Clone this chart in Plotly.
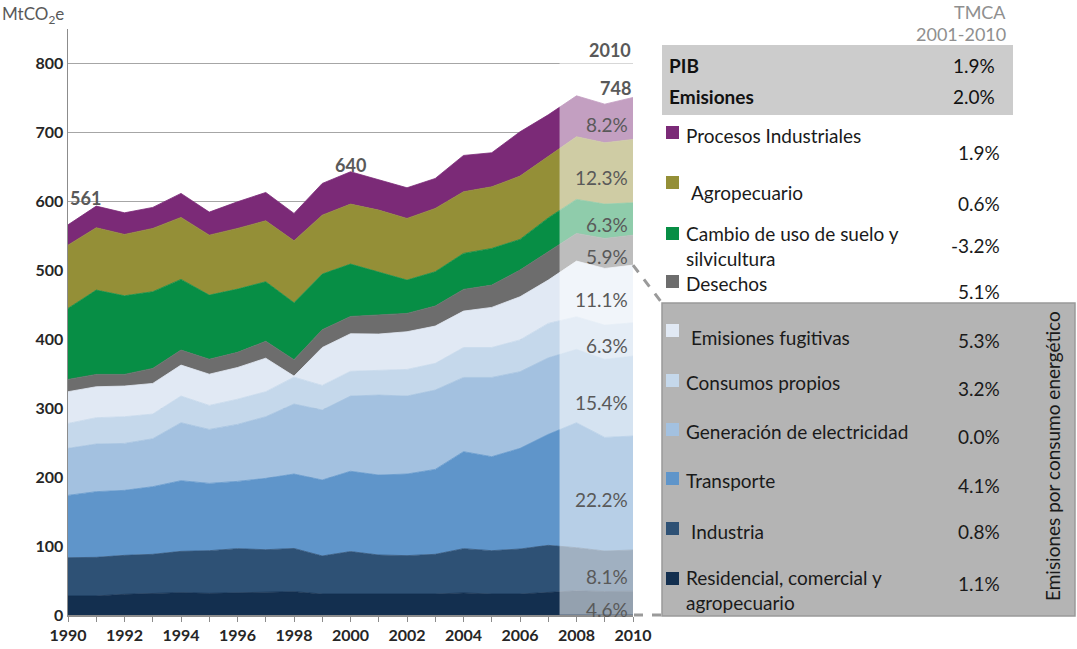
import numpy as np
import plotly.graph_objects as go

# ---------------- data ----------------
years = list(range(1990, 2011))

residencial = [27.6, 27.6, 30.0, 31.4, 32.4, 31.4, 32.4, 33.8, 33.8, 30.4, 30.4,
               30.4, 30.4, 30.4, 32.0, 30.4, 30.4, 33.0, 35.0, 34.0, 34.4]
industria = [55.5, 56.0, 56.5, 56.6, 59.9, 61.9, 63.8, 60.9, 62.7, 55.2, 61.6,
             56.6, 55.7, 57.6, 64.2, 62.9, 65.3, 68.0, 62.6, 58.8, 59.9]
transporte = [90.4, 95.3, 94.3, 98.1, 102.5, 97.6, 97.6, 103.5, 108.0, 110.2, 116.5,
              116.0, 118.4, 123.2, 140.7, 136.3, 146.0, 161.0, 181.3, 164.8, 165.3]
generacion = [68.2, 69.1, 68.1, 69.6, 84.1, 78.3, 82.7, 89.4, 101.5, 101.5, 109.1,
              116.0, 113.1, 115.1, 107.7, 115.0, 111.2, 111.0, 106.4, 113.2, 116.0]
consumos = [36.2, 38.2, 38.7, 35.8, 38.7, 34.8, 36.5, 36.3, 39.0, 35.7, 35.9,
            36.3, 38.6, 38.7, 43.4, 43.4, 46.1, 50.0, 47.3, 49.7, 48.3]
fugitivas = [46.0, 44.9, 44.5, 44.4, 44.9, 45.3, 46.0, 48.6, 1.5, 55.0, 54.5,
             52.2, 54.7, 54.1, 52.8, 58.2, 62.6, 62.8, 80.7, 82.2, 83.6]
desechos = [17.8, 17.9, 16.9, 21.8, 21.8, 21.7, 22.0, 24.5, 23.8, 25.8, 25.0,
            27.5, 26.6, 29.0, 31.5, 32.3, 38.7, 41.1, 40.2, 43.5, 43.5]
uso_suelo = [103.0, 122.3, 114.0, 111.2, 102.5, 93.0, 91.7, 86.4, 82.6, 80.7, 76.0,
             62.9, 48.3, 49.8, 52.2, 53.2, 44.5, 49.1, 49.3, 49.8, 46.9]
agropecuario = [91.8, 90.4, 89.0, 91.8, 89.9, 87.0, 88.0, 88.4, 89.9, 85.5, 87.0,
                89.4, 89.4, 91.8, 89.4, 89.4, 91.8, 88.7, 90.9, 89.0, 91.9]
procesos = [29.5, 31.4, 31.4, 30.5, 34.8, 33.4, 38.7, 41.1, 39.7, 46.0, 46.9,
            43.5, 44.5, 43.5, 52.7, 49.4, 64.3, 60.8, 59.4, 56.0, 60.9]

series_names = ["Residencial, comercial y agropecuario", "Industria", "Transporte",
                "Generación de electricidad", "Consumos propios", "Emisiones fugitivas",
                "Desechos", "Cambio de uso de suelo y silvicultura", "Agropecuario",
                "Procesos Industriales"]
series_values = [residencial, industria, transporte, generacion, consumos, fugitivas,
                 desechos, uso_suelo, agropecuario, procesos]
share_2010 = ["4.6%", "8.1%", "22.2%", "15.4%", "6.3%", "11.1%", "5.9%", "6.3%",
              "12.3%", "8.2%"]

total_labels = ["561", "640", "748"]
total_label_years = [1990, 2000, 2010]

legend_labels = ["Procesos Industriales", "Agropecuario",
                 "Cambio de uso de suelo y<br>silvicultura", "Desechos",
                 "Emisiones fugitivas", "Consumos propios",
                 "Generación de electricidad", "Transporte", "Industria",
                 "Residencial, comercial y<br>agropecuario"]
legend_tmca = ["1.9%", "0.6%", "-3.2%", "5.1%", "5.3%", "3.2%", "0.0%", "4.1%",
               "0.8%", "1.1%"]
summary_labels = ["PIB", "Emisiones"]
summary_tmca = ["1.9%", "2.0%"]
fade_start = 2007.4

# ---------------- styles ----------------
colors = ["#132F4F", "#2E5175", "#5F95CA", "#A3C1E0", "#C5D8EB", "#E1E9F4",
          "#6D6D6D", "#078E45", "#948F37", "#7B2A77"]
legend_colors = ["#7B2A77", "#948F37", "#078E45", "#6D6D6D", "#E1E9F4", "#C5D8EB",
                 "#A3C1E0", "#5F95CA", "#2E5175", "#132F4F"]
FONT = "Lato, 'Open Sans', sans-serif"
W, H = 1077, 649
L, R, T, B = 68, 444, 29, 34
YMAX = 850
FS = 19


def px(x):
    return (x - L) / (W - L - R)


def py(y):
    return (H - B - y) / (H - T - B)


def ypix(v):
    return (H - B) - v * (H - T - B) / YMAX


fig = go.Figure()
for name, vals, col in zip(series_names, series_values, colors):
    fig.add_trace(go.Scatter(
        x=years, y=vals, name=name, mode="lines", stackgroup="one",
        line=dict(width=0.8, color=col), fillcolor=col,
        showlegend=False, hoverinfo="skip"))

cum = np.cumsum(np.array(series_values), axis=0)
totals = cum[-1]

shapes = []
annotations = []

# faded projection overlay
shapes.append(dict(type="rect", xref="x", yref="y", x0=fade_start, x1=2010,
                   y0=0.5, y1=803, fillcolor="white", opacity=0.55,
                   line=dict(width=0), layer="above"))

# shares in 2010
for i, lab in enumerate(share_2010):
    lo = cum[i - 1][-1] if i > 0 else 0
    hi = cum[i][-1]
    annotations.append(dict(x=2010, y=(lo + hi) / 2, xref="x", yref="y",
                            text=lab, showarrow=False, xanchor="right",
                            yanchor="middle", xshift=-3, yshift=-6,
                            font=dict(size=FS, color="#595959", family=FONT)))

# total labels
tl_shift = [14, -6, -4]
tl_anchor = ["left", "center", "right"]
for lab, yr, sh, anc in zip(total_labels, total_label_years, tl_shift, tl_anchor):
    annotations.append(dict(x=yr, y=totals[years.index(yr)], xref="x", yref="y",
                            text=lab, showarrow=False, xanchor=anc,
                            yanchor="bottom", yshift=sh,
                            font=dict(size=18, color="#595959", family=FONT,
                                      weight="bold")))
annotations.append(dict(x=2010, y=820, xref="x", yref="y", text="2010",
                        showarrow=False, xanchor="right", yanchor="middle",
                        font=dict(size=18, color="#595959", family=FONT,
                                  weight="bold")))

# unit label
annotations.append(dict(x=px(0), y=py(15), xref="paper", yref="paper",
                        text="MtCO<sub>2</sub>e", showarrow=False,
                        xanchor="left", yanchor="middle",
                        font=dict(size=17, color="#595959", family=FONT)))

# ---------------- right panel ----------------
annotations.append(dict(x=px(1008), y=py(12), xref="paper", yref="paper",
                        text="TMCA", showarrow=False, xanchor="right",
                        yanchor="middle",
                        font=dict(size=18, color="#8F8F8F", family=FONT)))
annotations.append(dict(x=px(1008), y=py(34), xref="paper", yref="paper",
                        text="2001-2010", showarrow=False, xanchor="right",
                        yanchor="middle",
                        font=dict(size=18, color="#8F8F8F", family=FONT)))

shapes.append(dict(type="rect", xref="paper", yref="paper", x0=px(662), x1=px(1013),
                   y0=py(115), y1=py(45), fillcolor="#CCCCCC",
                   line=dict(width=0), layer="above"))
for lab, val, yc in zip(summary_labels, summary_tmca, [65, 96]):
    annotations.append(dict(x=px(667), y=py(yc), xref="paper", yref="paper",
                            text=lab, showarrow=False, xanchor="left",
                            yanchor="middle",
                            font=dict(size=FS, color="#111111", family=FONT,
                                      weight="bold")))
    annotations.append(dict(x=px(997), y=py(yc), xref="paper", yref="paper",
                            text=val, showarrow=False, xanchor="right",
                            yanchor="middle",
                            font=dict(size=FS, color="#111111", family=FONT)))

# energy box
shapes.append(dict(type="rect", xref="paper", yref="paper", x0=px(662), x1=px(1075),
                   y0=py(616), y1=py(303), fillcolor="#B4B4B4",
                   line=dict(width=1.5, color="#999999"), layer="above"))

# dashed connectors
fug_top = cum[5][-1]
shapes.append(dict(type="line", xref="paper", yref="paper", x0=px(633),
                   y0=py(ypix(fug_top)), x1=px(662), y1=py(303),
                   line=dict(color="#9A9A9A", width=3, dash="dash"), layer="above"))
shapes.append(dict(type="line", xref="paper", yref="paper", x0=px(634),
                   y0=py(615), x1=px(662), y1=py(615),
                   line=dict(color="#9A9A9A", width=3, dash="dash"), layer="above"))

sq_top = [126, 176, 227, 275, 324, 374, 423, 472, 522, 572]
txt_y = [135, 193, 245.5, 283, 337, 382, 431, 480, 531, 590]
txt_x = [684, 689, 684, 684, 689, 684, 684, 684, 689, 684]
val_y = [152, 203, 246, 291, 341, 388, 436, 485, 531, 583]
for lab, val, col, st, ty, tx, vy in zip(legend_labels, legend_tmca, legend_colors,
                                         sq_top, txt_y, txt_x, val_y):
    shapes.append(dict(type="rect", xref="paper", yref="paper", x0=px(666),
                       x1=px(679), y0=py(st + 13), y1=py(st), fillcolor=col,
                       line=dict(width=0), layer="above"))
    annotations.append(dict(x=px(tx), y=py(ty), xref="paper", yref="paper",
                            text=lab, showarrow=False, xanchor="left",
                            yanchor="middle", align="left",
                            font=dict(size=FS, color="#1A1A1A", family=FONT)))
    annotations.append(dict(x=px(1002), y=py(vy), xref="paper", yref="paper",
                            text=val, showarrow=False, xanchor="right",
                            yanchor="middle",
                            font=dict(size=FS, color="#1A1A1A", family=FONT)))

annotations.append(dict(x=px(1052), y=py(456), xref="paper", yref="paper",
                        text="Emisiones por consumo energético", showarrow=False,
                        textangle=-90, xanchor="center", yanchor="middle",
                        font=dict(size=FS, color="#1A1A1A", family=FONT)))

fig.update_layout(
    width=W, height=H, margin=dict(l=L, r=R, t=T, b=B, autoexpand=False),
    plot_bgcolor="white", paper_bgcolor="white",
    font=dict(family=FONT), showlegend=False,
    shapes=shapes, annotations=annotations,
)
fig.update_xaxes(range=[1990, 2010], tick0=1990, dtick=2, ticks="outside",
                 ticklen=5, tickcolor="#8C8C8C", showline=True, linecolor="#8C8C8C",
                 linewidth=1.5, showgrid=False, zeroline=False, automargin=False,
                 tickfont=dict(size=16, color="#262626", family=FONT, weight="bold"),
                 minor=dict(dtick=1, tick0=1990, ticks="outside", ticklen=5,
                            tickcolor="#8C8C8C", showgrid=False))
fig.update_yaxes(range=[0, YMAX], tick0=0, dtick=100, showline=True,
                 linecolor="#8C8C8C", linewidth=1.5, showgrid=True,
                 gridcolor="#A6A6A6", gridwidth=1, zeroline=False, ticks="",
                 automargin=False,
                 tickfont=dict(size=16, color="#262626", family=FONT, weight="bold"))

fig.write_html("out.html",
               config={"displayModeBar": False, "staticPlot": True},
               post_script="document.body.style.margin='0';"
                           "document.body.style.overflow='hidden';")
